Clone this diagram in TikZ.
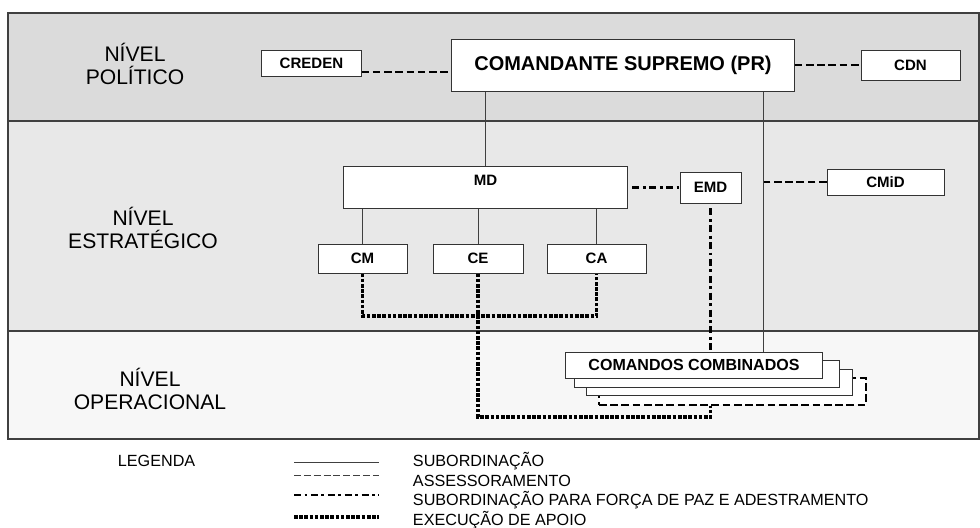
\documentclass[tikz,border=0pt]{standalone}
\usepackage{fontspec}
\setmainfont{Liberation Sans}

\begin{document}
\begin{tikzpicture}[x=0.025cm,y=-0.025cm,
	box/.style={draw=black!80,fill=white,line width=0.7pt,inner sep=0pt,font=\fontsize{10.7}{12}\selectfont\bfseries},
	nivel/.style={align=center,font=\fontsize{15}{16.5}\selectfont},
	sub/.style={draw=black!75,line width=0.7pt},
	assess/.style={line width=1.3pt,dash pattern=on 5.5pt off 2.5pt},
	paz/.style={line width=2pt,dash pattern=on 5pt off 2.5pt on 2pt off 2.5pt},
	apoio/.style={line width=2.2pt,dash pattern=on 2.6pt off 1.1pt},
	leg/.style={anchor=west,font=\fontsize{11.5}{12}\selectfont}]
	\useasboundingbox (0,0) rectangle (980,527);
	% faixas dos niveis
	\fill[black!14] (8,13) rectangle (979,121);
	\fill[black!9] (8,121) rectangle (979,331);
	\fill[black!3] (8,331) rectangle (979,439);
	\draw[black!75,line width=0.8pt] (8,13) rectangle (979,439) (8,121) -- (979,121) (8,331) -- (979,331);
	\node[nivel] (pol) at (135,64) {NÍVEL\\POLÍTICO};
	\node[nivel] (est) at (143,228) {NÍVEL\\ESTRATÉGICO};
	\node[nivel] (ope) at (150,389) {NÍVEL\\OPERACIONAL};
	% caixas
	\node[box,minimum width=2.475cm,minimum height=0.65cm] (creden) at (311.5,63) {CREDEN};
	\node[box,minimum width=8.55cm,minimum height=1.3cm,font=\fontsize{14.2}{16}\selectfont\bfseries] (cs) at (623,65) {COMANDANTE SUPREMO (PR)};
	\node[box,minimum width=2.475cm,minimum height=0.75cm] (cdn) at (910.5,65) {CDN};
	\node[box,minimum width=7.075cm,minimum height=1.05cm,text depth=0.35cm] (md) at (485.5,187) {MD};
	\node[box,minimum width=1.525cm,minimum height=0.775cm] (emd) at (710.5,187.5) {EMD};
	\node[box,minimum width=2.925cm,minimum height=0.65cm] (cmid) at (885.5,182) {CMiD};
	\node[box,minimum width=2.225cm,minimum height=0.725cm] (cm) at (362.5,258.5) {CM};
	\node[box,minimum width=2.25cm,minimum height=0.725cm] (ce) at (478,258.5) {CE};
	\node[box,minimum width=2.475cm,minimum height=0.725cm] (ca) at (596.5,258.5) {CA};
	\node[box,draw=black,assess,minimum width=6.675cm,minimum height=0.675cm] (cc4) at (732.5,391.5) {};
	\node[box,minimum width=6.625cm,minimum height=0.65cm] (cc3) at (719.5,382) {};
	\node[box,minimum width=6.6cm,minimum height=0.675cm] (cc2) at (707,373.5) {};
	\node[box,minimum width=6.4cm,minimum height=0.65cm,font=\fontsize{11.4}{12}\selectfont\bfseries] (cc1) at (694,365) {COMANDOS COMBINADOS};
	% ligacoes
	\coordinate (tr) at ([xshift=-0.775cm]cs.south east);
	\coordinate (cr) at ([yshift=-0.225cm]creden.east);
	\draw[sub] (md.north) -- (md.north |- cs.south);
	\draw[sub] (tr) -- (tr |- cc1.north);
	\foreach \c in {cm,ce,ca}
		\draw[sub] (\c.north) -- (\c.north |- md.south);
	\draw[assess] (cr) -- (cr -| cs.west);
	\draw[assess] (cs.east |- cdn.west) -- (cdn.west);
	\draw[assess] (cmid.west) -- (cmid.west -| tr);
	\draw[paz,shorten <=0.12cm] (md.east |- emd.west) -- (emd.west);
	\draw[paz,shorten <=0.12cm] (emd.south) -- (emd.south |- cc1.north);
	\coordinate (jn) at (ce.south |- 0,316);
	\coordinate (lo) at (emd.south |- 0,417);
	\draw[apoio] (cm.south) |- (jn) -| (ca.south);
	\draw[apoio] (ce.south) |- (lo) -- (lo |- cc4.south);
	% legenda
	\node[leg] (legenda) at (113,461) {LEGENDA};
	\draw[sub] (294,462) -- (379,462);
	\draw[black!75,line width=0.7pt,dash pattern=on 5pt off 2pt] (294,475) -- (379,475);
	\draw[paz] (294,495) -- (379,495);
	\draw[apoio] (294,517) -- (379,517);
	\node[leg] (l1) at (408,461) {SUBORDINAÇÃO};
	\node[leg] (l2) at (408,481) {ASSESSORAMENTO};
	\node[leg] (l3) at (408,500) {SUBORDINAÇÃO PARA FORÇA DE PAZ E ADESTRAMENTO};
	\node[leg] (l4) at (408,520) {EXECUÇÃO DE APOIO};
\end{tikzpicture}
\end{document}
